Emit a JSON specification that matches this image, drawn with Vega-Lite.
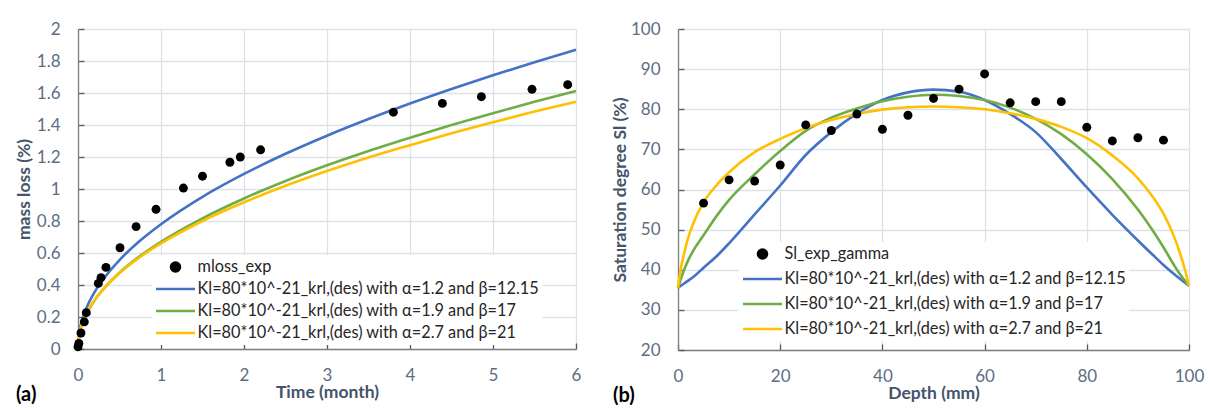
{
  "$schema": "https://vega.github.io/schema/vega-lite/v6.json",
  "background": "white",
  "padding": {"left": 15, "top": 20, "right": 5, "bottom": 5},
  "spacing": 29,
  "config": {
    "font": "Lato",
    "view": {"stroke": null},
    "axis": {
      "labelFont": "Lato", "labelFontSize": 17, "labelColor": "#5d6d84",
      "titleFont": "Lato", "titleFontSize": 17.5, "titleFontWeight": "bold", "titleColor": "#44546a",
      "gridColor": "#dde2e9", "gridWidth": 1.3,
      "domainColor": "#7f7f7f", "domainWidth": 1.3,
      "tickColor": "#595959", "tickSize": -6, "tickWidth": 1.3,
      "labelFlush": false, "labelOverlap": false
    }
  },
  "resolve": {"scale": {"color": "independent", "x": "independent", "y": "independent"}, "legend": {"color": "independent"}},
  "datasets": {
    "mloss": [
      {"t": 0.0, "v": 0.014, "s": "mloss_exp"},
      {"t": 0.01, "v": 0.035, "s": "mloss_exp"},
      {"t": 0.036, "v": 0.10, "s": "mloss_exp"},
      {"t": 0.076, "v": 0.17, "s": "mloss_exp"},
      {"t": 0.10, "v": 0.227, "s": "mloss_exp"},
      {"t": 0.245, "v": 0.41, "s": "mloss_exp"},
      {"t": 0.277, "v": 0.446, "s": "mloss_exp"},
      {"t": 0.337, "v": 0.51, "s": "mloss_exp"},
      {"t": 0.506, "v": 0.633, "s": "mloss_exp"},
      {"t": 0.70, "v": 0.765, "s": "mloss_exp"},
      {"t": 0.94, "v": 0.873, "s": "mloss_exp"},
      {"t": 1.27, "v": 1.006, "s": "mloss_exp"},
      {"t": 1.50, "v": 1.08, "s": "mloss_exp"},
      {"t": 1.83, "v": 1.167, "s": "mloss_exp"},
      {"t": 1.955, "v": 1.20, "s": "mloss_exp"},
      {"t": 2.20, "v": 1.245, "s": "mloss_exp"},
      {"t": 3.80, "v": 1.48, "s": "mloss_exp"},
      {"t": 4.39, "v": 1.535, "s": "mloss_exp"},
      {"t": 4.86, "v": 1.577, "s": "mloss_exp"},
      {"t": 5.47, "v": 1.623, "s": "mloss_exp"},
      {"t": 5.90, "v": 1.652, "s": "mloss_exp"},
      {"t": 0, "v": 0, "s": "Kl=80*10^-21_krl,(des) with α=1.2 and β=12.15"},
      {"t": 0.02, "v": 0.116, "s": "Kl=80*10^-21_krl,(des) with α=1.2 and β=12.15"},
      {"t": 0.05, "v": 0.181, "s": "Kl=80*10^-21_krl,(des) with α=1.2 and β=12.15"},
      {"t": 0.1, "v": 0.253, "s": "Kl=80*10^-21_krl,(des) with α=1.2 and β=12.15"},
      {"t": 0.2, "v": 0.356, "s": "Kl=80*10^-21_krl,(des) with α=1.2 and β=12.15"},
      {"t": 0.3, "v": 0.433, "s": "Kl=80*10^-21_krl,(des) with α=1.2 and β=12.15"},
      {"t": 0.5, "v": 0.556, "s": "Kl=80*10^-21_krl,(des) with α=1.2 and β=12.15"},
      {"t": 0.75, "v": 0.678, "s": "Kl=80*10^-21_krl,(des) with α=1.2 and β=12.15"},
      {"t": 1, "v": 0.78, "s": "Kl=80*10^-21_krl,(des) with α=1.2 and β=12.15"},
      {"t": 1.5, "v": 0.951, "s": "Kl=80*10^-21_krl,(des) with α=1.2 and β=12.15"},
      {"t": 2, "v": 1.094, "s": "Kl=80*10^-21_krl,(des) with α=1.2 and β=12.15"},
      {"t": 2.5, "v": 1.22, "s": "Kl=80*10^-21_krl,(des) with α=1.2 and β=12.15"},
      {"t": 3, "v": 1.333, "s": "Kl=80*10^-21_krl,(des) with α=1.2 and β=12.15"},
      {"t": 3.5, "v": 1.437, "s": "Kl=80*10^-21_krl,(des) with α=1.2 and β=12.15"},
      {"t": 4, "v": 1.534, "s": "Kl=80*10^-21_krl,(des) with α=1.2 and β=12.15"},
      {"t": 4.5, "v": 1.625, "s": "Kl=80*10^-21_krl,(des) with α=1.2 and β=12.15"},
      {"t": 5, "v": 1.711, "s": "Kl=80*10^-21_krl,(des) with α=1.2 and β=12.15"},
      {"t": 5.5, "v": 1.792, "s": "Kl=80*10^-21_krl,(des) with α=1.2 and β=12.15"},
      {"t": 6, "v": 1.87, "s": "Kl=80*10^-21_krl,(des) with α=1.2 and β=12.15"},
      {"t": 0, "v": 0, "s": "Kl=80*10^-21_krl,(des) with α=1.9 and β=17"},
      {"t": 0.02, "v": 0.099, "s": "Kl=80*10^-21_krl,(des) with α=1.9 and β=17"},
      {"t": 0.05, "v": 0.154, "s": "Kl=80*10^-21_krl,(des) with α=1.9 and β=17"},
      {"t": 0.1, "v": 0.217, "s": "Kl=80*10^-21_krl,(des) with α=1.9 and β=17"},
      {"t": 0.2, "v": 0.305, "s": "Kl=80*10^-21_krl,(des) with α=1.9 and β=17"},
      {"t": 0.3, "v": 0.371, "s": "Kl=80*10^-21_krl,(des) with α=1.9 and β=17"},
      {"t": 0.5, "v": 0.477, "s": "Kl=80*10^-21_krl,(des) with α=1.9 and β=17"},
      {"t": 0.75, "v": 0.582, "s": "Kl=80*10^-21_krl,(des) with α=1.9 and β=17"},
      {"t": 1, "v": 0.67, "s": "Kl=80*10^-21_krl,(des) with α=1.9 and β=17"},
      {"t": 1.5, "v": 0.817, "s": "Kl=80*10^-21_krl,(des) with α=1.9 and β=17"},
      {"t": 2, "v": 0.941, "s": "Kl=80*10^-21_krl,(des) with α=1.9 and β=17"},
      {"t": 2.5, "v": 1.05, "s": "Kl=80*10^-21_krl,(des) with α=1.9 and β=17"},
      {"t": 3, "v": 1.148, "s": "Kl=80*10^-21_krl,(des) with α=1.9 and β=17"},
      {"t": 3.5, "v": 1.238, "s": "Kl=80*10^-21_krl,(des) with α=1.9 and β=17"},
      {"t": 4, "v": 1.321, "s": "Kl=80*10^-21_krl,(des) with α=1.9 and β=17"},
      {"t": 4.5, "v": 1.40, "s": "Kl=80*10^-21_krl,(des) with α=1.9 and β=17"},
      {"t": 5, "v": 1.474, "s": "Kl=80*10^-21_krl,(des) with α=1.9 and β=17"},
      {"t": 5.5, "v": 1.545, "s": "Kl=80*10^-21_krl,(des) with α=1.9 and β=17"},
      {"t": 6, "v": 1.612, "s": "Kl=80*10^-21_krl,(des) with α=1.9 and β=17"},
      {"t": 0, "v": 0, "s": "Kl=80*10^-21_krl,(des) with α=2.7 and β=21"},
      {"t": 0.02, "v": 0.103, "s": "Kl=80*10^-21_krl,(des) with α=2.7 and β=21"},
      {"t": 0.05, "v": 0.159, "s": "Kl=80*10^-21_krl,(des) with α=2.7 and β=21"},
      {"t": 0.1, "v": 0.221, "s": "Kl=80*10^-21_krl,(des) with α=2.7 and β=21"},
      {"t": 0.2, "v": 0.307, "s": "Kl=80*10^-21_krl,(des) with α=2.7 and β=21"},
      {"t": 0.3, "v": 0.372, "s": "Kl=80*10^-21_krl,(des) with α=2.7 and β=21"},
      {"t": 0.5, "v": 0.475, "s": "Kl=80*10^-21_krl,(des) with α=2.7 and β=21"},
      {"t": 0.75, "v": 0.576, "s": "Kl=80*10^-21_krl,(des) with α=2.7 and β=21"},
      {"t": 1, "v": 0.66, "s": "Kl=80*10^-21_krl,(des) with α=2.7 and β=21"},
      {"t": 1.5, "v": 0.80, "s": "Kl=80*10^-21_krl,(des) with α=2.7 and β=21"},
      {"t": 2, "v": 0.917, "s": "Kl=80*10^-21_krl,(des) with α=2.7 and β=21"},
      {"t": 2.5, "v": 1.02, "s": "Kl=80*10^-21_krl,(des) with α=2.7 and β=21"},
      {"t": 3, "v": 1.112, "s": "Kl=80*10^-21_krl,(des) with α=2.7 and β=21"},
      {"t": 3.5, "v": 1.197, "s": "Kl=80*10^-21_krl,(des) with α=2.7 and β=21"},
      {"t": 4, "v": 1.274, "s": "Kl=80*10^-21_krl,(des) with α=2.7 and β=21"},
      {"t": 4.5, "v": 1.348, "s": "Kl=80*10^-21_krl,(des) with α=2.7 and β=21"},
      {"t": 5, "v": 1.417, "s": "Kl=80*10^-21_krl,(des) with α=2.7 and β=21"},
      {"t": 5.5, "v": 1.484, "s": "Kl=80*10^-21_krl,(des) with α=2.7 and β=21"},
      {"t": 6, "v": 1.546, "s": "Kl=80*10^-21_krl,(des) with α=2.7 and β=21"}
    ],
    "sat": [
      {"d": 5, "S": 56.6, "s": "Sl_exp_gamma"},
      {"d": 10, "S": 62.4, "s": "Sl_exp_gamma"},
      {"d": 15, "S": 62.1, "s": "Sl_exp_gamma"},
      {"d": 20, "S": 66.1, "s": "Sl_exp_gamma"},
      {"d": 25, "S": 76.1, "s": "Sl_exp_gamma"},
      {"d": 30, "S": 74.7, "s": "Sl_exp_gamma"},
      {"d": 35, "S": 78.8, "s": "Sl_exp_gamma"},
      {"d": 40, "S": 75.0, "s": "Sl_exp_gamma"},
      {"d": 45, "S": 78.5, "s": "Sl_exp_gamma"},
      {"d": 50, "S": 82.7, "s": "Sl_exp_gamma"},
      {"d": 55, "S": 85.0, "s": "Sl_exp_gamma"},
      {"d": 60, "S": 88.8, "s": "Sl_exp_gamma"},
      {"d": 65, "S": 81.6, "s": "Sl_exp_gamma"},
      {"d": 70, "S": 81.9, "s": "Sl_exp_gamma"},
      {"d": 75, "S": 81.9, "s": "Sl_exp_gamma"},
      {"d": 80, "S": 75.5, "s": "Sl_exp_gamma"},
      {"d": 85, "S": 72.1, "s": "Sl_exp_gamma"},
      {"d": 90, "S": 72.9, "s": "Sl_exp_gamma"},
      {"d": 95, "S": 72.3, "s": "Sl_exp_gamma"},
      {"d": 0, "S": 35.5, "s": "Kl=80*10^-21_krl,(des) with α=1.2 and β=12.15"},
      {"d": 1, "S": 36.4, "s": "Kl=80*10^-21_krl,(des) with α=1.2 and β=12.15"},
      {"d": 2, "S": 37.3, "s": "Kl=80*10^-21_krl,(des) with α=1.2 and β=12.15"},
      {"d": 3, "S": 38.2, "s": "Kl=80*10^-21_krl,(des) with α=1.2 and β=12.15"},
      {"d": 5, "S": 40.5, "s": "Kl=80*10^-21_krl,(des) with α=1.2 and β=12.15"},
      {"d": 7.5, "S": 43.3, "s": "Kl=80*10^-21_krl,(des) with α=1.2 and β=12.15"},
      {"d": 10, "S": 46.6, "s": "Kl=80*10^-21_krl,(des) with α=1.2 and β=12.15"},
      {"d": 15, "S": 53.8, "s": "Kl=80*10^-21_krl,(des) with α=1.2 and β=12.15"},
      {"d": 20, "S": 61.0, "s": "Kl=80*10^-21_krl,(des) with α=1.2 and β=12.15"},
      {"d": 25, "S": 68.6, "s": "Kl=80*10^-21_krl,(des) with α=1.2 and β=12.15"},
      {"d": 30, "S": 74.3, "s": "Kl=80*10^-21_krl,(des) with α=1.2 and β=12.15"},
      {"d": 35, "S": 78.9, "s": "Kl=80*10^-21_krl,(des) with α=1.2 and β=12.15"},
      {"d": 40, "S": 82.3, "s": "Kl=80*10^-21_krl,(des) with α=1.2 and β=12.15"},
      {"d": 45, "S": 84.2, "s": "Kl=80*10^-21_krl,(des) with α=1.2 and β=12.15"},
      {"d": 50, "S": 84.9, "s": "Kl=80*10^-21_krl,(des) with α=1.2 and β=12.15"},
      {"d": 55, "S": 84.4, "s": "Kl=80*10^-21_krl,(des) with α=1.2 and β=12.15"},
      {"d": 60, "S": 82.3, "s": "Kl=80*10^-21_krl,(des) with α=1.2 and β=12.15"},
      {"d": 65, "S": 78.8, "s": "Kl=80*10^-21_krl,(des) with α=1.2 and β=12.15"},
      {"d": 70, "S": 74.3, "s": "Kl=80*10^-21_krl,(des) with α=1.2 and β=12.15"},
      {"d": 75, "S": 67.6, "s": "Kl=80*10^-21_krl,(des) with α=1.2 and β=12.15"},
      {"d": 80, "S": 60.5, "s": "Kl=80*10^-21_krl,(des) with α=1.2 and β=12.15"},
      {"d": 85, "S": 53.7, "s": "Kl=80*10^-21_krl,(des) with α=1.2 and β=12.15"},
      {"d": 90, "S": 47.3, "s": "Kl=80*10^-21_krl,(des) with α=1.2 and β=12.15"},
      {"d": 93, "S": 43.6, "s": "Kl=80*10^-21_krl,(des) with α=1.2 and β=12.15"},
      {"d": 95, "S": 41.2, "s": "Kl=80*10^-21_krl,(des) with α=1.2 and β=12.15"},
      {"d": 97, "S": 39.0, "s": "Kl=80*10^-21_krl,(des) with α=1.2 and β=12.15"},
      {"d": 100, "S": 36.0, "s": "Kl=80*10^-21_krl,(des) with α=1.2 and β=12.15"},
      {"d": 0, "S": 35.5, "s": "Kl=80*10^-21_krl,(des) with α=1.9 and β=17"},
      {"d": 1, "S": 39.3, "s": "Kl=80*10^-21_krl,(des) with α=1.9 and β=17"},
      {"d": 2, "S": 42.4, "s": "Kl=80*10^-21_krl,(des) with α=1.9 and β=17"},
      {"d": 3, "S": 44.8, "s": "Kl=80*10^-21_krl,(des) with α=1.9 and β=17"},
      {"d": 5, "S": 48.6, "s": "Kl=80*10^-21_krl,(des) with α=1.9 and β=17"},
      {"d": 7.5, "S": 53.3, "s": "Kl=80*10^-21_krl,(des) with α=1.9 and β=17"},
      {"d": 10, "S": 57.4, "s": "Kl=80*10^-21_krl,(des) with α=1.9 and β=17"},
      {"d": 15, "S": 63.8, "s": "Kl=80*10^-21_krl,(des) with α=1.9 and β=17"},
      {"d": 20, "S": 69.6, "s": "Kl=80*10^-21_krl,(des) with α=1.9 and β=17"},
      {"d": 25, "S": 74.6, "s": "Kl=80*10^-21_krl,(des) with α=1.9 and β=17"},
      {"d": 30, "S": 77.9, "s": "Kl=80*10^-21_krl,(des) with α=1.9 and β=17"},
      {"d": 35, "S": 80.2, "s": "Kl=80*10^-21_krl,(des) with α=1.9 and β=17"},
      {"d": 40, "S": 82.0, "s": "Kl=80*10^-21_krl,(des) with α=1.9 and β=17"},
      {"d": 45, "S": 83.1, "s": "Kl=80*10^-21_krl,(des) with α=1.9 and β=17"},
      {"d": 50, "S": 83.6, "s": "Kl=80*10^-21_krl,(des) with α=1.9 and β=17"},
      {"d": 55, "S": 83.3, "s": "Kl=80*10^-21_krl,(des) with α=1.9 and β=17"},
      {"d": 60, "S": 82.3, "s": "Kl=80*10^-21_krl,(des) with α=1.9 and β=17"},
      {"d": 65, "S": 80.4, "s": "Kl=80*10^-21_krl,(des) with α=1.9 and β=17"},
      {"d": 70, "S": 77.6, "s": "Kl=80*10^-21_krl,(des) with α=1.9 and β=17"},
      {"d": 75, "S": 73.8, "s": "Kl=80*10^-21_krl,(des) with α=1.9 and β=17"},
      {"d": 80, "S": 68.8, "s": "Kl=80*10^-21_krl,(des) with α=1.9 and β=17"},
      {"d": 85, "S": 62.6, "s": "Kl=80*10^-21_krl,(des) with α=1.9 and β=17"},
      {"d": 90, "S": 55.0, "s": "Kl=80*10^-21_krl,(des) with α=1.9 and β=17"},
      {"d": 93, "S": 49.6, "s": "Kl=80*10^-21_krl,(des) with α=1.9 and β=17"},
      {"d": 95, "S": 45.6, "s": "Kl=80*10^-21_krl,(des) with α=1.9 and β=17"},
      {"d": 97, "S": 41.3, "s": "Kl=80*10^-21_krl,(des) with α=1.9 and β=17"},
      {"d": 98, "S": 39.3, "s": "Kl=80*10^-21_krl,(des) with α=1.9 and β=17"},
      {"d": 100, "S": 36.0, "s": "Kl=80*10^-21_krl,(des) with α=1.9 and β=17"},
      {"d": 0, "S": 35.5, "s": "Kl=80*10^-21_krl,(des) with α=2.7 and β=21"},
      {"d": 0.5, "S": 40.0, "s": "Kl=80*10^-21_krl,(des) with α=2.7 and β=21"},
      {"d": 1, "S": 43.0, "s": "Kl=80*10^-21_krl,(des) with α=2.7 and β=21"},
      {"d": 2, "S": 48.0, "s": "Kl=80*10^-21_krl,(des) with α=2.7 and β=21"},
      {"d": 3, "S": 51.6, "s": "Kl=80*10^-21_krl,(des) with α=2.7 and β=21"},
      {"d": 5, "S": 56.8, "s": "Kl=80*10^-21_krl,(des) with α=2.7 and β=21"},
      {"d": 7.5, "S": 61.0, "s": "Kl=80*10^-21_krl,(des) with α=2.7 and β=21"},
      {"d": 10, "S": 64.3, "s": "Kl=80*10^-21_krl,(des) with α=2.7 and β=21"},
      {"d": 15, "S": 69.3, "s": "Kl=80*10^-21_krl,(des) with α=2.7 and β=21"},
      {"d": 20, "S": 72.6, "s": "Kl=80*10^-21_krl,(des) with α=2.7 and β=21"},
      {"d": 25, "S": 75.3, "s": "Kl=80*10^-21_krl,(des) with α=2.7 and β=21"},
      {"d": 30, "S": 77.3, "s": "Kl=80*10^-21_krl,(des) with α=2.7 and β=21"},
      {"d": 35, "S": 78.8, "s": "Kl=80*10^-21_krl,(des) with α=2.7 and β=21"},
      {"d": 40, "S": 79.9, "s": "Kl=80*10^-21_krl,(des) with α=2.7 and β=21"},
      {"d": 45, "S": 80.5, "s": "Kl=80*10^-21_krl,(des) with α=2.7 and β=21"},
      {"d": 50, "S": 80.7, "s": "Kl=80*10^-21_krl,(des) with α=2.7 and β=21"},
      {"d": 55, "S": 80.5, "s": "Kl=80*10^-21_krl,(des) with α=2.7 and β=21"},
      {"d": 60, "S": 80.0, "s": "Kl=80*10^-21_krl,(des) with α=2.7 and β=21"},
      {"d": 65, "S": 79.0, "s": "Kl=80*10^-21_krl,(des) with α=2.7 and β=21"},
      {"d": 70, "S": 77.6, "s": "Kl=80*10^-21_krl,(des) with α=2.7 and β=21"},
      {"d": 75, "S": 75.6, "s": "Kl=80*10^-21_krl,(des) with α=2.7 and β=21"},
      {"d": 80, "S": 72.8, "s": "Kl=80*10^-21_krl,(des) with α=2.7 and β=21"},
      {"d": 85, "S": 68.5, "s": "Kl=80*10^-21_krl,(des) with α=2.7 and β=21"},
      {"d": 90, "S": 62.8, "s": "Kl=80*10^-21_krl,(des) with α=2.7 and β=21"},
      {"d": 93, "S": 58.0, "s": "Kl=80*10^-21_krl,(des) with α=2.7 and β=21"},
      {"d": 95, "S": 54.0, "s": "Kl=80*10^-21_krl,(des) with α=2.7 and β=21"},
      {"d": 97, "S": 48.5, "s": "Kl=80*10^-21_krl,(des) with α=2.7 and β=21"},
      {"d": 98, "S": 45.0, "s": "Kl=80*10^-21_krl,(des) with α=2.7 and β=21"},
      {"d": 99, "S": 41.0, "s": "Kl=80*10^-21_krl,(des) with α=2.7 and β=21"},
      {"d": 100, "S": 36.0, "s": "Kl=80*10^-21_krl,(des) with α=2.7 and β=21"}
    ]
  },
  "hconcat": [
    {
      "width": 498,
      "height": 320,
      "data": {"name": "mloss"},
      "title": {"text": "(a)", "orient": "bottom", "anchor": "start", "frame": "group", "fontSize": 20, "fontWeight": "bold", "color": "black", "font": "Lato", "dx": -62, "dy": -16, "offset": 0},
      "encoding": {
        "x": {"field": "t", "type": "quantitative", "scale": {"domain": [0, 6], "nice": false, "zero": false},
              "axis": {"title": "Time (month)", "values": [0, 1, 2, 3, 4, 5, 6], "labelPadding": 24, "titleY": 43, "titleBaseline": "middle"}},
        "y": {"field": "v", "type": "quantitative", "scale": {"domain": [0, 2], "nice": false},
              "axis": {"title": "mass loss (%)", "values": [0, 0.2, 0.4, 0.6, 0.8, 1, 1.2, 1.4, 1.6, 1.8, 2], "format": "~g", "labelPadding": 24, "titleX": -54, "titleBaseline": "middle"}},
        "color": {"field": "s", "type": "nominal",
          "scale": {"domain": ["mloss_exp", "Kl=80*10^-21_krl,(des) with α=1.2 and β=12.15", "Kl=80*10^-21_krl,(des) with α=1.9 and β=17", "Kl=80*10^-21_krl,(des) with α=2.7 and β=21"],
                    "range": ["#000000", "#4472c4", "#70ad47", "#ffc000"]},
          "legend": {"orient": "none", "legendX": 73.5, "legendY": 226, "title": null, "fillColor": "white", "padding": 3,
                     "clipHeight": 18, "rowPadding": 4, "labelOffset": 1, "labelFont": "Lato", "labelFontSize": 16.3, "labelColor": "#262626", "labelLimit": 600,
                     "symbolSize": 1520, "symbolStrokeWidth": 2.6, "symbolType": "stroke",
                     "encode": {"symbols": {"update": {
                       "shape": {"signal": "datum.index === 0 ? 'circle' : 'stroke'"},
                       "size": {"signal": "datum.index === 0 ? 80 : 1520"},
                       "fill": {"signal": "datum.index === 0 ? '#000000' : 'transparent'"},
                       "stroke": {"signal": "['transparent', '#4472c4', '#70ad47', '#ffc000'][datum.index]"},
                       "strokeWidth": {"value": 2.6},
                       "opacity": {"value": 1}}}}}
        }
      },
      "layer": [
        {"transform": [{"filter": "datum.s !== 'mloss_exp'"}], "mark": {"type": "line", "strokeWidth": 2.6, "interpolate": "monotone"}},
        {"transform": [{"filter": "datum.s === 'mloss_exp'"}], "mark": {"type": "point", "filled": true, "size": 80, "opacity": 1}}
      ]
    },
    {
      "width": 511,
      "height": 321,
      "data": {"name": "sat"},
      "title": {"text": "(b)", "orient": "bottom", "anchor": "start", "frame": "group", "fontSize": 20, "fontWeight": "bold", "color": "black", "font": "Lato", "dx": -65, "dy": -16, "offset": 0},
      "encoding": {
        "x": {"field": "d", "type": "quantitative", "scale": {"domain": [0, 100], "nice": false, "zero": false},
              "axis": {"title": "Depth (mm)", "values": [0, 20, 40, 60, 80, 100], "labelPadding": 24, "titleY": 43, "titleBaseline": "middle"}},
        "y": {"field": "S", "type": "quantitative", "scale": {"domain": [20, 100], "nice": false, "zero": false},
              "axis": {"title": "Saturation degree Sl (%)", "values": [20, 30, 40, 50, 60, 70, 80, 90, 100], "labelPadding": 24, "titleX": -58, "titleBaseline": "middle"}},
        "color": {"field": "s", "type": "nominal",
          "scale": {"domain": ["Sl_exp_gamma", "Kl=80*10^-21_krl,(des) with α=1.2 and β=12.15", "Kl=80*10^-21_krl,(des) with α=1.9 and β=17", "Kl=80*10^-21_krl,(des) with α=2.7 and β=21"],
                    "range": ["#000000", "#4472c4", "#70ad47", "#ffc000"]},
          "legend": {"orient": "none", "legendX": 60.5, "legendY": 213, "title": null, "fillColor": "white", "padding": 3,
                     "clipHeight": 18, "rowPadding": 7, "labelOffset": 1, "labelFont": "Lato", "labelFontSize": 16.3, "labelColor": "#262626", "labelLimit": 600,
                     "symbolSize": 1520, "symbolStrokeWidth": 2.6, "symbolType": "stroke",
                     "encode": {"symbols": {"update": {
                       "shape": {"signal": "datum.index === 0 ? 'circle' : 'stroke'"},
                       "size": {"signal": "datum.index === 0 ? 80 : 1520"},
                       "fill": {"signal": "datum.index === 0 ? '#000000' : 'transparent'"},
                       "stroke": {"signal": "['transparent', '#4472c4', '#70ad47', '#ffc000'][datum.index]"},
                       "strokeWidth": {"value": 2.6},
                       "opacity": {"value": 1}}}}}
        }
      },
      "layer": [
        {"transform": [{"filter": "datum.s !== 'Sl_exp_gamma'"}], "mark": {"type": "line", "strokeWidth": 2.6, "interpolate": "monotone"}},
        {"transform": [{"filter": "datum.s === 'Sl_exp_gamma'"}], "mark": {"type": "point", "filled": true, "size": 80, "opacity": 1}}
      ]
    }
  ]
}
